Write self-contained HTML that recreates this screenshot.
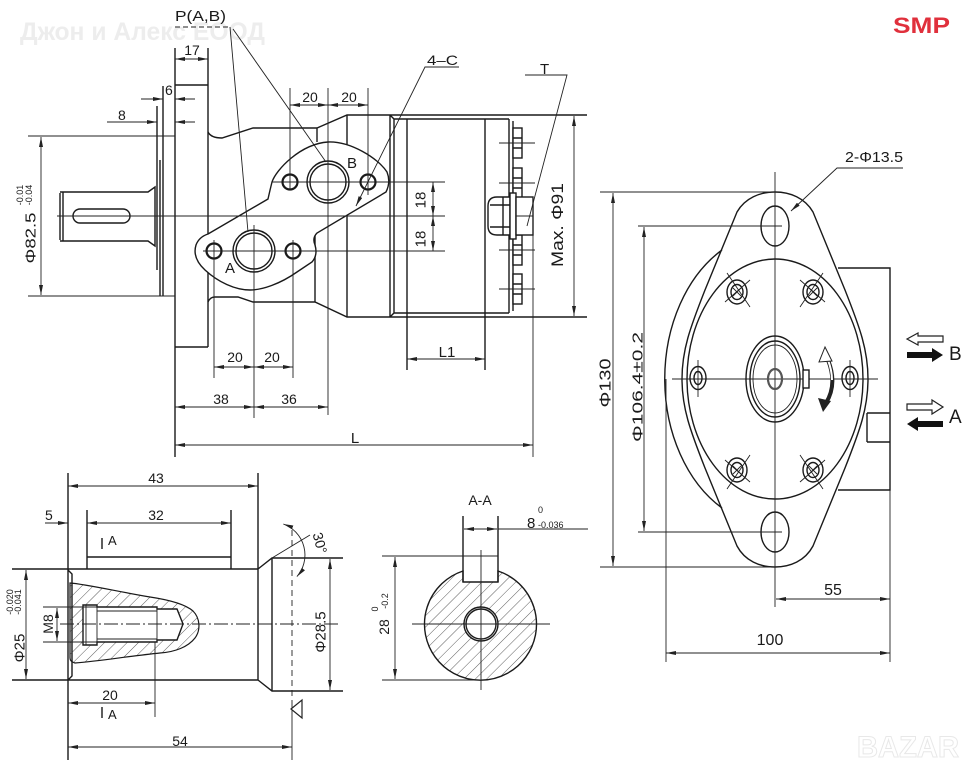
<!DOCTYPE html>
<html><head><meta charset="utf-8"><style>
html,body{margin:0;padding:0;background:#fff;}
svg{display:block;}
text{font-family:"Liberation Sans",Arial,sans-serif;fill:#1a1a1a;}
.o{stroke:#1a1a1a;stroke-width:1.4;fill:none;}
.d{stroke:#222;stroke-width:0.9;fill:none;}
.t{stroke:#1a1a1a;stroke-width:2.2;fill:none;}
.a{marker-start:url(#m);marker-end:url(#m);}
.e{marker-end:url(#m);}
.w{fill:#fff;}
</style></head><body>
<svg width="973" height="772" viewBox="0 0 973 772" xmlns="http://www.w3.org/2000/svg">
<defs>
<marker id="m" viewBox="0 0 10 4" refX="10" refY="2" markerWidth="10" markerHeight="4" orient="auto-start-reverse" markerUnits="userSpaceOnUse"><path d="M0,0L10,2L0,4z" fill="#222"/></marker>
<pattern id="h" patternUnits="userSpaceOnUse" width="8" height="8" patternTransform="rotate(45)"><line x1="0" y1="0" x2="0" y2="8" stroke="#333" stroke-width="0.8"/></pattern>
</defs>
<rect width="973" height="772" fill="#fff"/>

<!-- watermarks -->
<text x="20" y="40" font-size="25" font-weight="bold" textLength="245" lengthAdjust="spacingAndGlyphs" style="fill:#ededed">Джон и Алекс ЕООД</text>
<text x="893" y="33" font-size="22" font-weight="bold" textLength="57" lengthAdjust="spacingAndGlyphs" style="fill:#e0303c">SMP</text>
<text x="857" y="757" font-size="30" font-weight="bold" textLength="102" lengthAdjust="spacingAndGlyphs" style="fill:#fff;stroke:#e8e8e8;stroke-width:1">BAZAR</text>

<!-- ============ TOP-LEFT SIDE VIEW ============ -->
<path class="o" d="M175,48V457 M208,48V347 M175,85H208 M175,347H208"/>
<path class="o" d="M157,106V270 M160,160V296 M163,86V296"/>
<path class="d" d="M28,136H175 M28,296H175"/>
<path class="o" d="M60,193V240 M63,192V241 M60,192H148L155,187V246L148,241H60"/>
<rect class="o" x="73" y="209" width="57" height="14" rx="7"/>
<path class="d" d="M57,216H445"/>

<path class="o" d="M208,132Q211,138 222,138L253,128H317L347,115H587 M317,128V142 M347,115V317"/>
<path class="o" d="M208,302Q210,297 215,297H238L253,302H315L347,317H587 M315,233V302"/>
<path class="o" d="M390,115V317 M390,115L394,119H509 M390,317L394,313H509 M394,119V313 M407,119V370 M485,119V370 M509,119V313 M513,121V311"/>

<!-- bolts -->
<g>
<rect class="o w" x="513" y="128" width="9" height="30"/><path class="o" d="M513,138H522 M513,148H522"/><path class="d" d="M499,143H535"/>
<rect class="o w" x="513" y="168" width="9" height="30"/><path class="o" d="M513,178H522 M513,188H522"/><path class="d" d="M499,183H535"/>
<rect class="o w" x="513" y="235" width="9" height="30"/><path class="o" d="M513,245H522 M513,255H522"/><path class="d" d="M499,250H535"/>
<rect class="o w" x="513" y="274" width="9" height="30"/><path class="o" d="M513,284H522 M513,294H522"/><path class="d" d="M499,289H535"/>
</g>
<!-- plug -->
<path class="o w" d="M510,197H497Q488,197 488,206V226Q488,235 497,235H510Z"/>
<path class="o" d="M490,205H510 M490,227H510 M503,197V235"/>
<rect class="o w" x="510" y="193" width="6" height="46"/>
<rect class="o w" x="516" y="197" width="17" height="38"/>
<path class="d" d="M516,216H533"/>

<!-- port plate -->
<path class="o w" d="M208,234L268,199Q270,190 272,182C276,170 300,144 328,142C350,141 378,158 387,172Q391,182 386,192L317,233Q312,238 315,245Q318,255 312,262L297,272C280,284 262,290 250,290C235,290 218,282 205,270Q192,258 196,245Q199,237 208,234Z"/>
<path class="d" d="M272,182H445 M203,251H445 M57,216H445"/>
<circle class="o" cx="328" cy="182" r="21"/><circle class="o" cx="328" cy="182" r="18"/>
<circle class="t" cx="290" cy="182" r="7.5"/><circle class="t" cx="368" cy="182" r="7.5"/>
<circle class="o" cx="254" cy="251" r="21"/><circle class="o" cx="254" cy="251" r="18"/>
<circle class="t" cx="214" cy="251" r="7.5"/><circle class="t" cx="293" cy="251" r="7.5"/>

<!-- dims top-left -->
<path class="d a" d="M574,116V316"/>
<path class="d" d="M525,75H567L527,226"/>
<path class="d e" d="M459,67H425L356,206"/>
<path class="d a" d="M433,182V216"/><path class="d a" d="M433,216V251"/>
<path class="d" stroke-dasharray="5,3" d="M175,27H230"/>
<path class="d" d="M230,27L248,232 M233,29L326,162"/>
<path class="d a" d="M175,59H208"/>
<path class="d e" d="M141,99H163"/><path class="d e" d="M195,99H175"/>
<path class="d e" d="M107,122H157"/><path class="d e" d="M195,122H175"/>
<path class="d a" d="M41,137V295"/>
<path class="d a" d="M290,105H328"/><path class="d a" d="M328,105H368"/>
<path class="d" d="M290,88V190 M328,88V415 M368,88V195"/>
<path class="d a" d="M214,367H254"/><path class="d a" d="M254,367H293"/>
<path class="d" d="M214,240V378 M293,240V378 M254,225V418"/>
<path class="d a" d="M175,407H254"/><path class="d a" d="M254,407H328"/>
<path class="d a" d="M175,445H533"/><path class="d" d="M533,197V457"/>
<path class="d a" d="M407,359H485"/>

<text x="175" y="21" font-size="15" textLength="51" lengthAdjust="spacingAndGlyphs">P(A,B)</text>
<text x="192" y="55" font-size="14" text-anchor="middle">17</text>
<text x="165" y="95" font-size="14">6</text>
<text x="118" y="120" font-size="14">8</text>
<text x="310" y="102" font-size="14" text-anchor="middle">20</text>
<text x="349" y="102" font-size="14" text-anchor="middle">20</text>
<text x="427" y="65" font-size="14" textLength="31" lengthAdjust="spacingAndGlyphs">4–C</text>
<text x="540" y="74" font-size="15">T</text>
<text x="347" y="168" font-size="15">B</text>
<text x="225" y="273" font-size="15">A</text>
<text transform="translate(420,200) rotate(-90)" font-size="15" text-anchor="middle" dy="0.35em">18</text>
<text transform="translate(420,239) rotate(-90)" font-size="15" text-anchor="middle" dy="0.35em">18</text>
<text transform="translate(557,225) rotate(-90)" font-size="17" text-anchor="middle" dy="0.35em" textLength="84" lengthAdjust="spacingAndGlyphs">Max. Φ91</text>
<text transform="translate(30,238) rotate(-90)" font-size="15" text-anchor="middle" dy="0.35em" textLength="51" lengthAdjust="spacingAndGlyphs">Φ82.5</text>
<text transform="translate(20,195) rotate(-90)" font-size="9" text-anchor="middle" dy="0.35em">-0.01</text>
<text transform="translate(29,195) rotate(-90)" font-size="9" text-anchor="middle" dy="0.35em">-0.04</text>
<text x="235" y="362" font-size="14" text-anchor="middle">20</text>
<text x="272" y="362" font-size="14" text-anchor="middle">20</text>
<text x="221" y="404" font-size="14" text-anchor="middle">38</text>
<text x="289" y="404" font-size="14" text-anchor="middle">36</text>
<text x="355" y="443" font-size="15" text-anchor="middle">L</text>
<text x="447" y="357" font-size="15" text-anchor="middle">L1</text>

<!-- ============ FRONT VIEW ============ -->
<path class="o" d="M722,250A110,147 0 0 0 722,508"/>
<path class="d" d="M666,379V662"/>
<ellipse class="o" cx="775" cy="379" rx="88" ry="120"/>
<path class="o" d="M737,212C745,198 760,192 775,192C790,192 805,198 813,212L845,290C860,328 868,350 868,379C868,408 860,430 845,468L813,546C805,561 790,567 775,567C760,567 745,561 737,546L705,468C690,430 682,408 682,379C682,350 690,328 705,290Z"/>
<path class="o" d="M838,268H890V490H838 M867,413H890 M867,442H890 M867,413V442"/>
<path class="d" d="M775,172V607 M672,379H878"/>
<ellipse class="o" cx="775" cy="226" rx="14" ry="20"/>
<ellipse class="o" cx="775" cy="532" rx="14" ry="20"/>
<path class="d" d="M600,192H775 M638,226H782 M638,532H782 M600,567H775"/>
<path class="d a" d="M613,193V566"/>
<path class="d a" d="M644,227V531"/>
<path class="d e" d="M903,168H837L791,211"/>
<path class="d a" d="M776,599H890"/>
<path class="d a" d="M666,653H890"/>
<path class="d" d="M890,490V662"/>

<!-- bolts front -->
<g>
<ellipse class="o" cx="737" cy="292" rx="10" ry="12"/><ellipse class="o" cx="737" cy="292" rx="6" ry="7.5"/>
<path class="d" d="M733,288L741,296 M741,288L733,296 M727,273L750,307 M725,302L750,280"/>
<ellipse class="o" cx="813" cy="292" rx="10" ry="12"/><ellipse class="o" cx="813" cy="292" rx="6" ry="7.5"/>
<path class="d" d="M809,288L817,296 M817,288L809,296 M823,273L800,307 M825,302L800,280"/>
<ellipse class="o" cx="737" cy="470" rx="10" ry="12"/><ellipse class="o" cx="737" cy="470" rx="6" ry="7.5"/>
<path class="d" d="M733,466L741,474 M741,466L733,474 M727,489L750,455 M725,460L750,482"/>
<ellipse class="o" cx="813" cy="470" rx="10" ry="12"/><ellipse class="o" cx="813" cy="470" rx="6" ry="7.5"/>
<path class="d" d="M809,466L817,474 M817,466L809,474 M823,489L800,455 M825,460L800,482"/>
<ellipse class="o" cx="698" cy="378" rx="8" ry="11.5"/><ellipse class="o" cx="698" cy="378" rx="4" ry="6.5"/>
<path class="d" d="M698,360V397"/>
<ellipse class="o" cx="850" cy="378" rx="8" ry="11.5"/><ellipse class="o" cx="850" cy="378" rx="4" ry="6.5"/>
<path class="d" d="M850,360V397"/>
</g>
<!-- shaft centre -->
<ellipse class="o" cx="775" cy="379" rx="29" ry="43"/>
<ellipse class="o" cx="775" cy="379" rx="25" ry="38"/>
<ellipse class="d" cx="775" cy="379" rx="22" ry="34"/>
<ellipse cx="775" cy="379" rx="7" ry="10" style="fill:none;stroke:#555;stroke-width:2.2"/>
<rect class="o w" x="803" y="370" width="6" height="18"/>
<!-- rotation arrow -->
<path d="M828,360C834,375 834,390 826,403" style="fill:none;stroke:#222;stroke-width:4"/>
<path d="M828,360C831,368 832,374 832,380" style="fill:none;stroke:#fff;stroke-width:2"/>
<polygon points="825,347 819,362 832,361" style="fill:#fff;stroke:#222;stroke-width:1"/>
<polygon points="823,412 818,398 831,401" style="fill:#222"/>
<!-- B/A arrows -->
<polygon points="907,339 918,333 918,336 943,336 943,342 918,342 918,345" style="fill:#fff;stroke:#222;stroke-width:1.2"/>
<polygon points="907,352 932,352 932,348 943,355 932,362 932,358 907,358" style="fill:#111"/>
<polygon points="907,404 932,404 932,400 943,407 932,414 932,410 907,410" style="fill:#fff;stroke:#222;stroke-width:1.2"/>
<polygon points="943,421 918,421 918,417 907,424 918,431 918,427 943,427" style="fill:#111"/>
<text x="949" y="360" font-size="19">B</text>
<text x="949" y="423" font-size="19">A</text>

<text x="845" y="162" font-size="15" textLength="58" lengthAdjust="spacingAndGlyphs">2-Φ13.5</text>
<text transform="translate(605,383) rotate(-90)" font-size="16" text-anchor="middle" dy="0.35em" textLength="49" lengthAdjust="spacingAndGlyphs">Φ130</text>
<text transform="translate(637,387) rotate(-90)" font-size="15" text-anchor="middle" dy="0.35em" textLength="110" lengthAdjust="spacingAndGlyphs">Φ106.4±0.2</text>
<text x="833" y="595" font-size="16" text-anchor="middle">55</text>
<text x="770" y="645" font-size="16" text-anchor="middle">100</text>

<!-- ============ SHAFT DETAIL ============ -->
<path class="o" d="M68,473V760 M258,473V680 M12,569H258 M12,680H258 M258,569L272,558H343 M258,680L272,691H343 M272,558V691 M68,570L72,574V676L68,680"/>
<path class="o" d="M87,510V569 M231,510V569 M87,557H231"/>
<path d="M70,583C85,584 120,592 150,597C170,600 185,604 193,611C200,618 201,630 195,638C188,647 175,652 160,653C130,656 100,661 75,663C71,662 70,660 70,658Z" style="fill:url(#h);stroke:#1a1a1a;stroke-width:1.2"/>
<path class="o w" d="M83,605H97V607H157V609H177L183,624L177,640H157V642H97V645H83Z"/>
<path class="d" d="M97,611H157 M97,639H157 M157,607V642 M97,605V645 M86,605V645"/>
<path class="d" d="M43,607H97 M43,642H97"/>
<path class="d a" d="M57,608V641"/>
<path class="d a" d="M26,570V679"/>
<path class="d a" d="M330,559V690"/>
<path class="d" stroke-dasharray="14,3,2,3" d="M60,624H340"/>
<path class="d" stroke-dasharray="6,4" d="M292,530V697"/>
<path class="d" d="M292,700V760"/>
<polygon points="291,709 302,700 302,718" style="fill:#fff;stroke:#222;stroke-width:1.2"/>
<path class="d" d="M272,558L310,535"/>
<path class="d a" d="M283.3,524A33,33 0 0 1 296.9,576.6"/>
<path class="d a" d="M68,486H258"/>
<path class="d a" d="M87,523H231"/>
<path class="d e" d="M45,523H68"/>
<path class="d a" d="M68,703H155"/>
<path class="d" d="M155,642V717"/>
<path class="d a" d="M68,747H292"/>
<path class="o" d="M102,538V549 M102,707V718"/>

<text x="156" y="483" font-size="14" text-anchor="middle">43</text>
<text x="45" y="520" font-size="14">5</text>
<text x="156" y="520" font-size="14" text-anchor="middle">32</text>
<text x="108" y="545" font-size="13">A</text>
<text transform="translate(48,624) rotate(-90)" font-size="14" text-anchor="middle" dy="0.35em">M8</text>
<text transform="translate(19,648) rotate(-90)" font-size="15" text-anchor="middle" dy="0.35em">Φ25</text>
<text transform="translate(10,602) rotate(-90)" font-size="9" text-anchor="middle" dy="0.35em">-0.020</text>
<text transform="translate(18,602) rotate(-90)" font-size="9" text-anchor="middle" dy="0.35em">-0.041</text>
<text transform="translate(320,632) rotate(-90)" font-size="15" text-anchor="middle" dy="0.35em">Φ28.5</text>
<text transform="translate(320,543) rotate(75)" font-size="14" text-anchor="middle" dy="0.35em">30°</text>
<text x="110" y="700" font-size="14" text-anchor="middle">20</text>
<text x="108" y="719" font-size="13">A</text>
<text x="180" y="746" font-size="14" text-anchor="middle">54</text>

<!-- ============ A-A SECTION ============ -->
<path d="M463,571L463,582L498,582L498,571A56,56 0 1 1 463,571Z" style="fill:url(#h);stroke:#1a1a1a;stroke-width:1.4"/>
<circle cx="481" cy="624" r="17" style="fill:#fff;stroke:#1a1a1a;stroke-width:1.4"/>
<circle class="o" cx="481" cy="624" r="15"/>
<path class="o" d="M463,516V582 M498,516V582"/>
<path class="d" d="M382,556H498 M382,680H481"/>
<path class="d a" d="M395,557V679"/>
<path class="d a" d="M464,529H497"/>
<path class="d" d="M498,529H588"/>
<path class="d" d="M412,624H550 M481,550V690"/>
<text x="480" y="505" font-size="14" text-anchor="middle">A-A</text>
<text x="527" y="528" font-size="15">8</text>
<text x="538" y="513" font-size="9">0</text>
<text x="538" y="528" font-size="9">-0.036</text>
<text transform="translate(384,627) rotate(-90)" font-size="14" text-anchor="middle" dy="0.35em">28</text>
<text transform="translate(375,609) rotate(-90)" font-size="9" text-anchor="middle" dy="0.35em">0</text>
<text transform="translate(385,601) rotate(-90)" font-size="9" text-anchor="middle" dy="0.35em">-0.2</text>
</svg>
</body></html>
